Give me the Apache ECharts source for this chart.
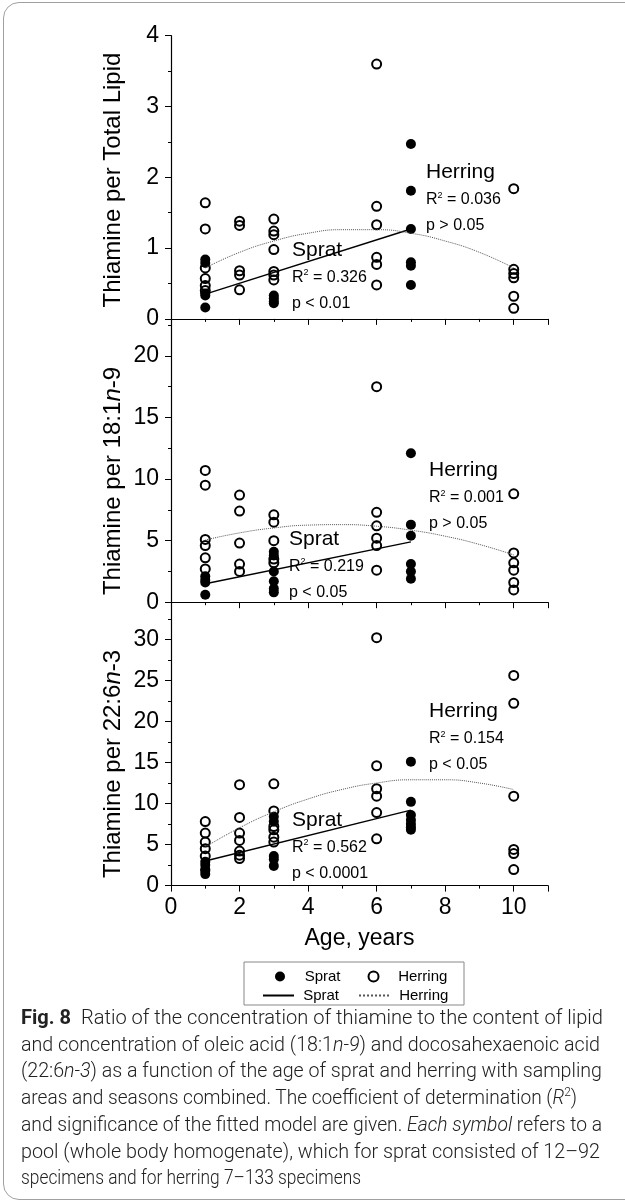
<!DOCTYPE html>
<html>
<head>
<meta charset="utf-8">
<title>Thiamine ratios vs age</title>
<script src="https://cdn.jsdelivr.net/npm/echarts@6.0.0/dist/echarts.min.js"></script>
<style>
  html, body { margin: 0; padding: 0; background: #fff; }
  #wrap { position: relative; width: 625px; height: 1204px; overflow: hidden; background: #fff; }
  #main { position: absolute; left: 0; top: 0; width: 625px; height: 1204px; }
  #frame { position: absolute; left: 3px; top: 2px; width: 680px; height: 1198px; border: 1.5px solid #a0a0a0; border-radius: 16px; box-sizing: border-box; pointer-events: none; }
  #caption { position: absolute; left: 21px; top: 1004px; font-family: Roboto, "Liberation Sans", sans-serif; font-weight: 300; font-size: 21px; line-height: 26.7px; color: #222; white-space: nowrap; }
  #caption span { display: inline-block; transform-origin: 0 50%; }
  #caption b { font-weight: 700; }
</style>
</head>
<body>
<div id="wrap">
  <div id="main"></div>
  <div id="frame"></div>
  <div id="caption">
    <div><span data-w="582"><b>Fig. 8</b>&nbsp; Ratio of the concentration of thiamine to the content of lipid</span></div>
    <div><span data-w="579">and concentration of oleic acid (18:1<i>n-9</i>) and docosahexaenoic acid</span></div>
    <div><span data-w="581">(22:6<i>n-3</i>) as a function of the age of sprat and herring with sampling</span></div>
    <div><span data-w="556">areas and seasons combined. The coefficient of determination (<i>R</i><sup style="font-size:13px;line-height:0">2</sup>)</span></div>
    <div><span data-w="581">and significance of the fitted model are given. <i>Each symbol</i> refers to a</span></div>
    <div><span data-w="579">pool (whole body homogenate), which for sprat consisted of 12–92</span></div>
    <div><span data-w="340">specimens and for herring 7–133 specimens</span></div>
  </div>
</div>
<script>
// --- data: [age, ratio] ---
const spratLipid = [[1,0.84],[1,0.79],[1,0.36],[1,0.33],[1,0.16],
  [3,0.33],[3,0.29],[3,0.25],[3,0.22],
  [7,2.47],[7,1.81],[7,1.27],[7,0.80],[7,0.75],[7,0.48]];
const herringLipid = [[1,1.64],[1,1.27],[1,0.72],[1,0.57],[1,0.47],[1,0.40],
  [2,1.38],[2,1.32],[2,0.68],[2,0.62],[2,0.41],
  [3,1.41],[3,1.24],[3,1.19],[3,0.98],[3,0.67],[3,0.62],[3,0.55],
  [6,3.60],[6,1.59],[6,1.33],[6,0.87],[6,0.77],[6,0.48],
  [10,1.84],[10,0.70],[10,0.64],[10,0.58],[10,0.32],[10,0.15]];

const spratOleic = [[1,2.1],[1,1.8],[1,1.6],[1,0.6],
  [3,4.1],[3,3.8],[3,2.5],[3,1.7],[3,1.1],[3,0.8],
  [7,12.1],[7,6.3],[7,5.4],[7,3.1],[7,2.5],[7,1.9]];
const herringOleic = [[1,10.7],[1,9.5],[1,5.1],[1,4.6],[1,3.6],[1,2.7],
  [2,8.7],[2,7.4],[2,4.8],[2,3.1],[2,2.5],
  [3,7.1],[3,6.5],[3,5.0],[3,3.5],[3,3.2],
  [6,17.5],[6,7.3],[6,6.2],[6,5.2],[6,4.6],[6,2.6],
  [10,8.8],[10,4.0],[10,3.2],[10,2.6],[10,1.6],[10,1.0]];

const spratDHA = [[1,2.9],[1,2.5],[1,2.0],[1,1.8],[1,1.4],
  [3,8.4],[3,7.8],[3,3.6],[3,3.2],[3,2.4],
  [7,15.1],[7,10.2],[7,8.6],[7,8.0],[7,7.5],[7,7.1],[7,6.8]];
const herringDHA = [[1,7.8],[1,6.4],[1,5.3],[1,4.5],[1,3.6],
  [2,12.3],[2,8.3],[2,6.4],[2,5.5],[2,4.2],[2,3.7],[2,3.3],
  [3,12.4],[3,9.1],[3,7.2],[3,6.8],[3,5.9],[3,5.3],
  [6,30.2],[6,14.6],[6,11.8],[6,10.9],[6,8.9],[6,5.7],
  [10,25.6],[10,22.2],[10,10.9],[10,4.4],[10,3.9],[10,1.95]];

// fitted lines
const spratFitLipid = [[1,0.35],[7,1.27]];
const spratFitOleic = [[1,1.5],[7,4.9]];
const spratFitDHA = [[1,3.0],[7,9.2]];
const fitAges = [1,2,3,4,5,6,7,8,9,10];
const herringFitLipid = [0.72,0.94,1.10,1.21,1.26,1.26,1.21,1.10,0.94,0.72];
const herringFitOleic = [5.05,5.63,6.03,6.26,6.30,6.17,5.85,5.36,4.69,3.84];
const herringFitDHA = [4.70,7.04,8.99,10.55,11.72,12.50,12.89,12.89,12.50,11.70];

const yMax = [4, 23, 34.5];
const yInterval = [1, 5, 5];
const yTitles = ['Thiamine per Total Lipid', 'Thiamine per 18:1{i|n}-9', 'Thiamine per 22:6{i|n}-3'];
const stats = [
  { sprat: ['0.326', 'p < 0.01'], herring: ['0.036', 'p > 0.05'] },
  { sprat: ['0.219', 'p < 0.05'], herring: ['0.001', 'p > 0.05'] },
  { sprat: ['0.562', 'p < 0.0001'], herring: ['0.154', 'p < 0.05'] }
];

const FONT = '"Liberation Sans", Arial, sans-serif';
const sprats = [spratLipid, spratOleic, spratDHA];
const herrings = [herringLipid, herringOleic, herringDHA];
const spratFits = [spratFitLipid, spratFitOleic, spratFitDHA];
const herringFits = [herringFitLipid, herringFitOleic, herringFitDHA].map(v => fitAges.map((a, i) => [a, v[i]]));

const gridTops = [35.7, 319, 602.4];
const gridH = 283.2;

const grids = gridTops.map(t => ({ left: 171, top: t, width: 377, height: gridH }));

const xAxes = [0, 1, 2].map(i => ({
  type: 'value', gridIndex: i, min: 0, max: 11, interval: 2,
  axisLine: { lineStyle: { color: '#000', width: 1.2 } },
  axisTick: { show: true, length: 6, lineStyle: { color: '#000' } },
  minorTick: { show: true, splitNumber: 2, length: 3, lineStyle: { color: '#000' } },
  splitLine: { show: false },
  axisLabel: { show: i === 2, fontFamily: FONT, fontSize: 23, color: '#000', margin: 11, showMaxLabel: false },
  name: i === 2 ? 'Age, years' : '',
  nameLocation: 'middle', nameGap: 42,
  nameTextStyle: { fontFamily: FONT, fontSize: 23, color: '#000' }
}));

const yAxes = [0, 1, 2].map(i => ({
  type: 'value', gridIndex: i, min: 0, max: yMax[i], interval: yInterval[i],
  axisLine: { show: true, lineStyle: { color: '#000', width: 1.2 } },
  axisTick: { show: true, length: 6, lineStyle: { color: '#000' } },
  minorTick: { show: true, splitNumber: 2, length: 3, lineStyle: { color: '#000' } },
  splitLine: { show: false },
  axisLabel: { fontFamily: FONT, fontSize: 23, color: '#000', margin: 12, showMaxLabel: i === 0 }
}));

const series = [];
[0, 1, 2].forEach(i => {
  series.push({
    name: 'Sprat', type: 'scatter', xAxisIndex: i, yAxisIndex: i, data: sprats[i],
    symbol: 'circle', symbolSize: 10, itemStyle: { color: '#000', opacity: 1 }, z: 3
  });
  series.push({
    name: 'Herring', type: 'scatter', xAxisIndex: i, yAxisIndex: i, data: herrings[i],
    symbol: 'circle', symbolSize: 9,
    itemStyle: { color: 'rgba(255,255,255,0)', borderColor: '#000', borderWidth: 2, opacity: 1 }, z: 2
  });
  series.push({
    name: 'Sprat fit', type: 'line', xAxisIndex: i, yAxisIndex: i, data: spratFits[i],
    symbol: 'none', lineStyle: { color: '#000', width: 1.4 }, itemStyle: { color: '#000', opacity: 0 }, z: 4
  });
  series.push({
    name: 'Herring fit', type: 'line', xAxisIndex: i, yAxisIndex: i, data: herringFits[i],
    symbol: 'none', smooth: true,
    lineStyle: { color: '#555', width: 1, type: 'dotted' }, itemStyle: { color: '#555', opacity: 0 }, z: 4
  });
});

// annotation text placement (pixels)
const annoPos = [
  { sx: 292, sy: 250, hx: 426, hy: 172 },
  { sx: 289, sy: 539, hx: 429, hy: 470 },
  { sx: 292, sy: 820, hx: 429, hy: 711 }
];
const titleY = [180, 481, 764];

const statRich = {
  a: { fontFamily: FONT, fontSize: 16, fill: '#000', lineHeight: 18 },
  s: { fontFamily: FONT, fontSize: 9, fill: '#000', lineHeight: 12, verticalAlign: 'top' }
};

const graphics = [];
[0, 1, 2].forEach(i => {
  graphics.push({
    type: 'text', x: 113, y: titleY[i], rotation: Math.PI / 2,
    style: {
      text: yTitles[i], fontFamily: FONT, fontSize: 24, fill: '#000',
      align: 'center', verticalAlign: 'middle',
      rich: { i: { fontFamily: FONT, fontSize: 24, fontStyle: 'italic', fill: '#000' } }
    }
  });
  const p = annoPos[i];
  const add = (txt, x, y, size) => graphics.push({
    type: 'text', x: x, y: y,
    style: { text: txt, fontFamily: FONT, fontSize: size, fill: '#000', align: 'left', verticalAlign: 'middle', rich: statRich }
  });
  add('Sprat', p.sx, p.sy, 21);
  add('{a|R}{s|2}{a| = ' + stats[i].sprat[0] + '}', p.sx, p.sy + 27.5, 16);
  add(stats[i].sprat[1], p.sx, p.sy + 54, 16);
  add('Herring', p.hx, p.hy, 21);
  add('{a|R}{s|2}{a| = ' + stats[i].herring[0] + '}', p.hx, p.hy + 28, 16);
  add(stats[i].herring[1], p.hx, p.hy + 54, 16);
});
graphics.push({
  type: 'rect', shape: { x: 244, y: 962, width: 220, height: 43 },
  style: { fill: 'none', stroke: '#888', lineWidth: 1 }
});

const legendBase = {
  itemWidth: 31, itemHeight: 10, padding: 0,
  selectedMode: false,
  textStyle: { fontFamily: FONT, fontSize: 15, color: '#000' }
};

const chart = echarts.init(document.getElementById('main'));
chart.setOption({
  animation: false,
  backgroundColor: 'transparent',
  grid: grids,
  xAxis: xAxes,
  yAxis: yAxes,
  legend: [
    Object.assign({}, legendBase, { left: 275, top: 969, itemGap: 27, data: ['Sprat', 'Herring'], formatter: n => ' ' + n }),
    Object.assign({}, legendBase, { left: 262, top: 988, itemGap: 19,
      data: [{ name: 'Sprat fit', itemStyle: { opacity: 0 } }, { name: 'Herring fit', itemStyle: { opacity: 0 } }],
      formatter: n => ' ' + n.replace(' fit', '') })
  ],
  graphic: graphics,
  series: series
});

// fit each caption line to its measured width in the figure
document.querySelectorAll('#caption span[data-w]').forEach(s => {
  const w = s.getBoundingClientRect().width;
  s.style.transform = 'scaleX(' + (parseFloat(s.dataset.w) / w) + ')';
});
</script>
</body>
</html>
